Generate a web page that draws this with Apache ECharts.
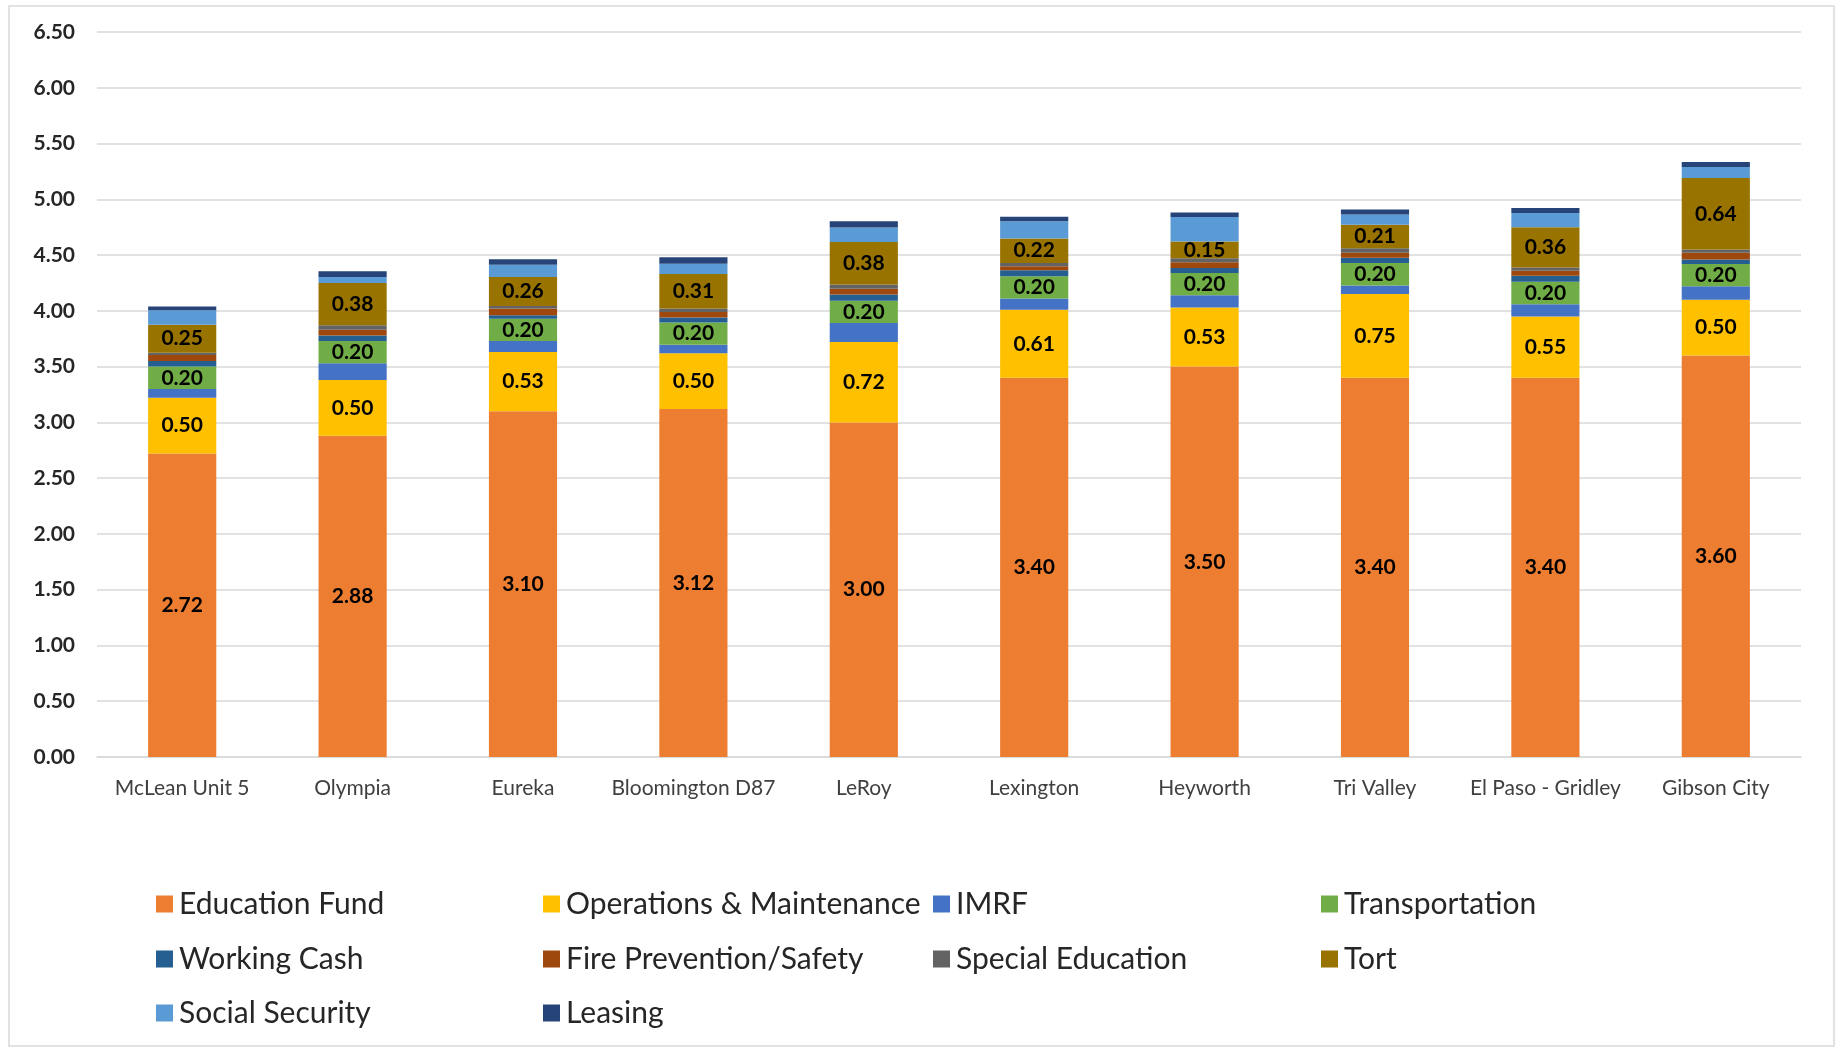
<!DOCTYPE html>
<html><head><meta charset="utf-8">
<script src="https://cdn.jsdelivr.net/npm/echarts@6/dist/echarts.min.js"></script>
<style>html,body{margin:0;padding:0;background:#fff}#c{width:1837px;height:1049px}</style>
</head><body><div id="c"></div>
<script>
const categories = ['McLean Unit 5','Olympia','Eureka','Bloomington D87','LeRoy','Lexington','Heyworth','Tri Valley','El Paso - Gridley','Gibson City'];
const educationFund = [2.72,2.88,3.10,3.12,3.00,3.40,3.50,3.40,3.40,3.60];
const operationsMaintenance = [0.50,0.50,0.53,0.50,0.72,0.61,0.53,0.75,0.55,0.50];
const imrf = [0.08,0.15,0.10,0.075,0.17,0.10,0.11,0.078,0.11,0.12];
const transportation = [0.20,0.20,0.20,0.20,0.20,0.20,0.20,0.20,0.20,0.20];
const workingCash = [0.05,0.05,0.03,0.045,0.057,0.054,0.045,0.048,0.054,0.04];
const firePrevention = [0.055,0.05,0.06,0.05,0.05,0.035,0.05,0.045,0.045,0.06];
const specialEducation = [0.02,0.04,0.024,0.03,0.04,0.03,0.036,0.04,0.03,0.03];
const tort = [0.25,0.38,0.26,0.31,0.38,0.22,0.15,0.21,0.36,0.64];
const socialSecurity = [0.13,0.054,0.11,0.093,0.13,0.155,0.22,0.093,0.128,0.10];
const leasing = [0.035,0.05,0.048,0.057,0.057,0.04,0.04,0.045,0.045,0.045];

const seriesDefs = [
  ['Education Fund', educationFund, '#ED7D31', true],
  ['Operations & Maintenance', operationsMaintenance, '#FFC000', true],
  ['IMRF', imrf, '#4472C4', false],
  ['Transportation', transportation, '#70AD47', true],
  ['Working Cash', workingCash, '#255E91', false],
  ['Fire Prevention/Safety', firePrevention, '#9E480E', false],
  ['Special Education', specialEducation, '#636363', false],
  ['Tort', tort, '#997300', true],
  ['Social Security', socialSecurity, '#5B9BD5', false],
  ['Leasing', leasing, '#264478', false]
];
const FONT = 'Lato, "Noto Sans", sans-serif';
const legendCols = [151, 538, 928, 1316];
const legendRows = [884, 939, 993];
const legends = seriesDefs.map((d, i) => ({
  data: [d[0]],
  left: legendCols[i % 4],
  top: legendRows[Math.floor(i / 4)],
  itemWidth: 17, itemHeight: 17, icon: 'rect', itemGap: 0,
  textStyle: {fontFamily: FONT, fontSize: 30, color: '#262626', padding: [0,0,0,1]},
  selectedMode: false
}));
const chart = echarts.init(document.getElementById('c'), null, {renderer: 'canvas'});
chart.setOption({
  animation: false,
  backgroundColor: '#fff',
  graphic: [{type: 'rect', shape: {x: 9, y: 6, width: 1825, height: 1040}, style: {fill: 'none', stroke: '#d9d9d9', lineWidth: 1.5}, silent: true, z: -1}],
  grid: {left: 97, right: 36, top: 32, bottom: 292, containLabel: false},
  legend: legends,
  xAxis: {
    type: 'category', data: categories,
    axisLine: {lineStyle: {color: '#d9d9d9', width: 1.5}},
    axisTick: {show: false},
    axisLabel: {interval: 0, fontFamily: FONT, fontSize: 21, color: '#404040', margin: 21}
  },
  yAxis: {
    type: 'value', min: 0, max: 6.5, interval: 0.5,
    axisLine: {show: false}, axisTick: {show: false},
    splitLine: {lineStyle: {color: '#d9d9d9', width: 1.5}},
    axisLabel: {fontFamily: FONT, fontSize: 21, fontWeight: 'bold', color: '#262626', margin: 22, formatter: v => v.toFixed(2)}
  },
  series: seriesDefs.map(d => ({
    name: d[0], type: 'bar', stack: 'total', data: d[1],
    barCategoryGap: '60%',
    itemStyle: {color: d[2]},
    label: {show: d[3], position: 'inside', fontFamily: FONT, fontSize: 21, fontWeight: 'bold', color: '#000', formatter: p => p.value.toFixed(2)}
  }))
});
</script></body></html>
